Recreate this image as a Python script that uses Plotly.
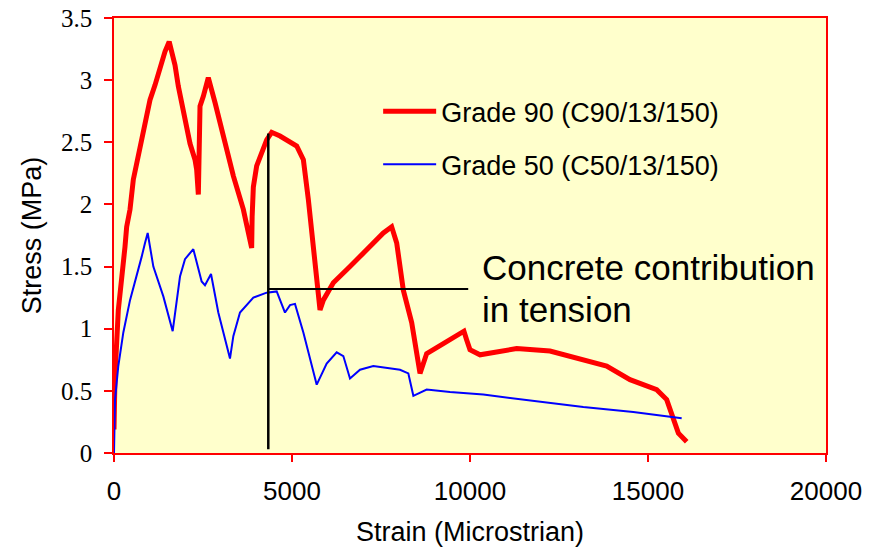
import plotly.graph_objects as go

# Grade 90 (C90/13/150) - strain (microstrain), stress (MPa)
g90_strain = [0, 28, 121, 216, 309, 356, 450, 543, 683, 823, 918, 1011, 1152, 1292, 1433, 1550,
              1714, 1807, 1994, 2135, 2275, 2322, 2369, 2380, 2400, 2416, 2509, 2584, 2649,
              2837, 3071, 3352, 3633, 3773, 3867, 3880, 3914, 4008, 4148, 4289, 4429,
              4663, 5132, 5319, 5459, 5600, 5740, 5787,
              5880, 6161, 6629, 7098, 7566, 7800,
              7941, 8127, 8362, 8596,
              8783, 9251, 9719, 9830, 9907, 10000, 10281, 10842, 11311, 12247, 13183, 13839,
              14494, 15244, 15525, 15712, 15853, 16087]
g90_stress = [0.19, 0.62, 1.15, 1.37, 1.66, 1.82, 1.96, 2.2, 2.39, 2.55, 2.71, 2.84, 2.96, 3.11, 3.23, 3.31,
              3.12, 2.95, 2.68, 2.49, 2.36, 2.28, 2.08, 2.36, 2.57, 2.79, 2.87, 2.95, 3.02,
              2.82, 2.55, 2.23, 1.96, 1.77, 1.65, 1.9, 2.14, 2.31, 2.41, 2.52, 2.58,
              2.55, 2.47, 2.36, 2.04, 1.64, 1.29, 1.15,
              1.23, 1.37, 1.5, 1.64, 1.77, 1.82,
              1.69, 1.31, 1.05, 0.64,
              0.8, 0.88, 0.97, 0.98, 0.91, 0.83, 0.79, 0.82, 0.84, 0.82, 0.75, 0.7,
              0.59, 0.51, 0.43, 0.29, 0.16, 0.09]

# Grade 50 (C50/13/150)
g50_strain = [0, 28, 121, 216, 262, 450, 637, 778, 871, 946,
              1105, 1386, 1648, 1761, 1854, 1994, 2228,
              2462, 2556, 2725, 2930, 3258,
              3352, 3539, 3914, 4289, 4570,
              4803, 4944, 5084, 5319, 5694,
              5974, 6255, 6442, 6629, 6910, 7284, 7753, 8034, 8268, 8409,
              8783, 9439, 10374, 11779, 13183, 14587, 15946]
g50_stress = [0.0, 0.43, 0.7, 0.86, 0.97, 1.23, 1.42, 1.58, 1.69, 1.77,
              1.5, 1.26, 0.98, 1.23, 1.42, 1.56, 1.64,
              1.38, 1.35, 1.44, 1.13, 0.76,
              0.94, 1.13, 1.25, 1.29, 1.3,
              1.13, 1.19, 1.2, 0.97, 0.55,
              0.72, 0.81, 0.78, 0.6, 0.67, 0.7, 0.68, 0.67, 0.64, 0.46,
              0.51, 0.49, 0.47, 0.42, 0.37, 0.33, 0.28]

# annotation guide lines (data coordinates)
guide_x = 4334
guide_y = 1.32
guide_top = 2.57
guide_right = 9950

note_lines = ["Concrete contribution", "in tension"]
note_x = 10290
note_y = [1.49, 1.152]

x_ticks = [0, 5000, 10000, 15000, 20000]
y_ticks = [0, 0.5, 1, 1.5, 2, 2.5, 3, 3.5]
y_ticklabels = ["0", "0.5", "1", "1.5", "2", "2.5", "3", "3.5"]

fig = go.Figure()
fig.add_trace(go.Scatter(x=g90_strain, y=g90_stress, mode="lines",
                         name="Grade 90 (C90/13/150)", legendgroup="a",
                         line=dict(color="#FF0000", width=5)))
fig.add_trace(go.Scatter(x=g50_strain, y=g50_stress, mode="lines",
                         name="Grade 50 (C50/13/150)", legendgroup="b",
                         line=dict(color="#0000FF", width=2)))

fig.add_shape(type="line", x0=guide_x, x1=guide_x, y0=0.03, y1=guide_top,
              xref="x", yref="y", line=dict(color="black", width=2.5))
fig.add_shape(type="line", x0=guide_x, x1=guide_right, y0=guide_y, y1=guide_y,
              xref="x", yref="y", line=dict(color="black", width=2))

for txt, yy in zip(note_lines, note_y):
    fig.add_annotation(x=note_x, y=yy, xref="x", yref="y", xanchor="left", yanchor="middle",
                       text=txt, showarrow=False, align="left",
                       font=dict(family="Liberation Sans, Arial", size=35, color="black"))

fig.update_layout(
    width=878, height=549,
    margin=dict(l=114, r=52, t=18, b=96, autoexpand=False),
    paper_bgcolor="white",
    plot_bgcolor="#FFFFCC",
    font=dict(family="Liberation Sans, Arial", color="black"),
    showlegend=True,
    legend=dict(x=0.371, y=0.841, xanchor="left", yanchor="top",
                bgcolor="rgba(0,0,0,0)", borderwidth=0,
                font=dict(family="Liberation Sans, Arial", size=27, color="black"),
                traceorder="grouped", tracegroupgap=15, itemwidth=53),
    xaxis=dict(range=[0, 20000], tickvals=x_ticks, ticktext=[str(v) for v in x_ticks],
               automargin=False,
               showgrid=False, zeroline=False,
               showline=True, linecolor="#FF0000", linewidth=1.5, mirror=True,
               ticks="outside", ticklen=7, tickcolor="#FF0000", tickwidth=1.5,
               ticklabelstandoff=7,
               tickfont=dict(family="Liberation Sans, Arial", size=26, color="black"),
               title=dict(text="Strain (Microstrian)", standoff=17,
                          font=dict(family="Liberation Sans, Arial", size=27, color="black"))),
    yaxis=dict(range=[0, 3.5], tickvals=y_ticks, ticktext=y_ticklabels,
               automargin=False,
               showgrid=False, zeroline=False,
               showline=True, linecolor="#FF0000", linewidth=1.5, mirror=True,
               ticks="outside", ticklen=8, tickcolor="#FF0000", tickwidth=1.5,
               ticklabelstandoff=7,
               tickfont=dict(family="Liberation Serif, serif", size=25, color="black"),
               title=dict(text="Stress (MPa)", standoff=12,
                          font=dict(family="Liberation Sans, Arial", size=27, color="black"))),
)

fig.write_html("out.html")
